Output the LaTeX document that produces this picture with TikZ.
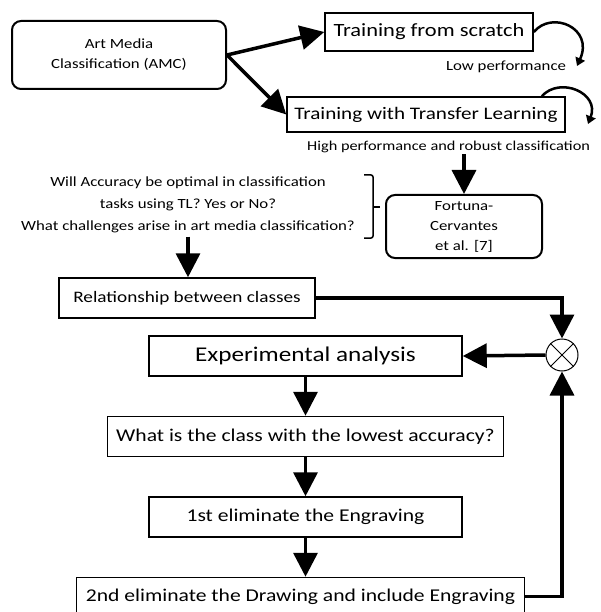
\documentclass[tikz,border=0pt]{standalone}
\usepackage{fontspec}
\setmainfont[FakeStretch=1.2]{Carlito}
\usetikzlibrary{positioning,arrows.meta}

\begin{document}
\begin{tikzpicture}[x=1pt,y=-1pt,node distance=39pt,
  box/.style={draw,line width=1.5pt,inner sep=0pt,align=center},
  rbox/.style={box,line width=2pt,rounded corners=9pt},
  arr/.style={line width=3.5pt,-{Triangle[length=24pt,width=24pt]}},
  curl/.style={line width=2.5pt,-{Triangle[length=8pt,width=10pt]}}]
\useasboundingbox (0,0) rectangle (601,612);
\node[rbox,minimum width=214pt,minimum height=68pt,font=\fontsize{14}{20}\selectfont] (amc) at (119,55) {Art Media\\Classification (AMC)};
\node[box,minimum width=208pt,minimum height=38pt,font=\fontsize{18.7}{22}\selectfont] (scratch) at (429,32) {Training from scratch};
\node[box,minimum width=278pt,minimum height=35pt,font=\fontsize{17.6}{22}\selectfont] (tl) at (426,114.5) {Training with Transfer Learning};
\node[font=\fontsize{14}{17}\selectfont] (lowperf) at (506,67) {Low performance};
\node[anchor=west,inner sep=1pt,font=\fontsize{13.6}{17}\selectfont] (hiperf) at (306,147) {High performance and robust classification};
\node[rbox,minimum width=156pt,minimum height=63pt,font=\fontsize{14}{20}\selectfont] (fortuna) at (464,226.5) {Fortuna-\\Cervantes\\et al. [7]};
\node[align=center,font=\fontsize{14}{22}\selectfont] (quest) at (188,205) {Will Accuracy be optimal in classification\\tasks using TL? Yes or No?\\What challenges arise in art media classification?};
\node[box,minimum width=256pt,minimum height=40pt,font=\fontsize{16}{20}\selectfont] (rel) at (187,298) {Relationship between classes};
\node[box,minimum width=313pt,minimum height=40pt,font=\fontsize{21}{24}\selectfont] (exp) at (305.5,356) {Experimental analysis};
\node[box,minimum width=396pt,minimum height=40pt,font=\fontsize{18}{22}\selectfont,below=of exp] (lowest) {What is the class with the lowest accuracy?};
\node[box,minimum width=313pt,minimum height=40pt,font=\fontsize{18}{22}\selectfont,below=of lowest] (first) {1st eliminate the Engraving};
\node[box,minimum width=448pt,minimum height=38pt,font=\fontsize{18}{22}\selectfont,below=of first,xshift=-5pt] (second) {2nd eliminate the Drawing and include Engraving};
\node[circle,draw,line width=1pt,minimum size=32pt,inner sep=0pt] (mix) at (562,355) {};
\draw[line width=1pt] (mix.north west) -- (mix.south east) (mix.north east) -- (mix.south west);
% curled arrows at the training boxes
\coordinate (scratchend) at (577,66);
\coordinate (tlstart) at ([xshift=-24pt]tl.north east);
\coordinate (tlend) at (588,124);
\draw[curl] (scratch.east) .. controls (552,10) and (594,28) .. (scratchend);
\draw[curl] (tlstart) .. controls (560,76) and (600,93) .. (tlend);
% bracket round the questions
\draw[line width=1.5pt,rounded corners=2pt] (364,175) -- (373,175) -- (373,238) -- (364,238);
\draw[line width=1.5pt] (373,207) -- (380,207);
\draw[arr] (amc.east) -- (scratch.west);
\draw[arr] (amc.east) -- (tl.west);
\draw[arr] (fortuna.north |- hiperf.south) -- (fortuna.north);
\draw[arr] (quest.south) -- (quest.south |- rel.north);
\draw[arr] (rel.east) -| (mix.north);
\draw[arr] (mix.west) -- (exp.east);
\draw[arr] (exp.south) -- (lowest.north);
\draw[arr] (lowest.south) -- (first.north);
\draw[arr] (first.south) -- (first.south |- second.north);
\draw[arr] (second.east) -| (mix.south);
\end{tikzpicture}
\end{document}
